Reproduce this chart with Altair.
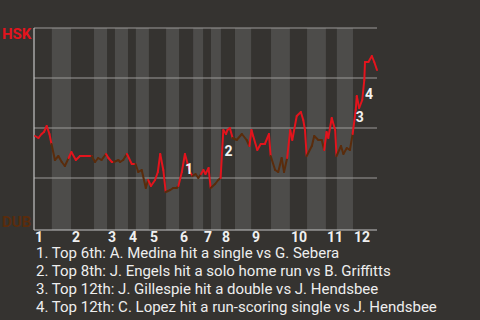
import altair as alt
import pandas as pd

# Game progress (% of plays) and HSK win probability after each play
progress = [0.3, 1.3, 2.2, 2.9, 3.7, 4.5, 5.1,
            6.1, 7.1, 8.1, 9.0, 10.1,
            10.9, 12.2, 13.4, 15.2, 16.8,
            17.8, 18.7, 19.7, 21.0,
            21.7, 22.7, 23.3,
            24.6, 25.1, 26.0, 27.1,
            28.5, 29.6,
            30.4, 31.4, 32.6, 33.3,
            34.1, 35.3, 36.1, 36.8, 37.7, 38.4,
            39.7, 40.6, 41.6, 42.1,
            43.1, 44.0, 44.8, 45.5, 46.2,
            47.1, 47.9, 48.7,
            49.4, 50.0, 50.9, 51.5,
            52.8, 53.7, 54.4,
            55.2, 56.0, 56.4, 57.1, 57.9,
            59.1, 60.6, 62.0, 62.8,
            63.4, 63.9, 65.1, 66.1, 67.3, 68.5, 69.0,
            70.3, 71.2, 72.2, 72.9, 73.8,
            74.7, 75.3, 76.6, 77.8, 78.5, 79.0, 79.5,
            81.0, 81.7, 82.9, 83.9, 84.6,
            85.3, 85.8, 86.8, 87.8, 88.2,
            89.5, 90.2, 91.2, 92.1, 92.9,
            93.8, 94.1, 94.8, 95.7, 96.3, 96.5, 97.5, 98.5, 99.2, 100.0]
hsk_wp = [0.46, 0.45, 0.47, 0.48, 0.51, 0.47, 0.42,
          0.34, 0.36, 0.33, 0.31, 0.35,
          0.38, 0.34, 0.36, 0.36, 0.36,
          0.33, 0.35, 0.34, 0.37,
          0.35, 0.33, 0.33,
          0.34, 0.33, 0.34, 0.37,
          0.32, 0.32,
          0.28, 0.29, 0.20, 0.24,
          0.21, 0.24, 0.28, 0.37, 0.29, 0.18,
          0.19, 0.20, 0.20, 0.21,
          0.28, 0.37, 0.32, 0.28, 0.26,
          0.27, 0.25, 0.27,
          0.29, 0.27, 0.30, 0.20,
          0.22, 0.24, 0.25,
          0.49, 0.47, 0.49, 0.50, 0.45,
          0.44, 0.47, 0.44, 0.41,
          0.49, 0.46, 0.39, 0.42, 0.42, 0.47, 0.36,
          0.29, 0.28, 0.35, 0.28, 0.35,
          0.49, 0.44, 0.56, 0.58, 0.54, 0.49, 0.36,
          0.41, 0.46, 0.44, 0.44, 0.39,
          0.48, 0.45, 0.55, 0.49, 0.36,
          0.41, 0.37, 0.40, 0.39, 0.47,
          0.59, 0.66, 0.60, 0.64, 0.74, 0.83, 0.83, 0.86, 0.83, 0.79]

# Where each inning starts and where its bottom half starts
innings = ["1", "2", "3", "4", "5", "6", "7", "8", "9", "10", "11", "12"]
inning_start = [0, 10.8, 21.3, 27.4, 33.5, 42.3, 49.3, 54.5, 63.3, 74.6, 85.1, 93.0]
bottom_start = [5.2, 17.5, 23.6, 29.7, 38.5, 46.4, 51.6, 58.6, 69.1, 79.6, 88.3]

# Key plays
event_num = ["1", "2", "3", "4"]
event_x = [45.2, 56.7, 95.0, 97.7]
event_y = [0.29, 0.38, 0.55, 0.665]
event_text = [
    "1. Top 6th: A. Medina hit a single vs G. Sebera",
    "2. Top 8th: J. Engels hit a solo home run vs B. Griffitts",
    "3. Top 12th: J. Gillespie hit a double vs J. Hendsbee",
    "4. Top 12th: C. Lopez hit a run-scoring single vs J. Hendsbee",
]

RED = "#e3141d"
BROWN = "#5a2c0c"
BG = "#353330"
STRIPE = "#4d4c4a"
FONT = "Roboto"

W, H = 343, 202
xs = alt.Scale(domain=[0, 100], nice=False, zero=False)
ys = alt.Scale(domain=[-0.01, 1], nice=False, zero=False)


def batting(p):
    for b, nxt in zip(bottom_start, inning_start[1:] + [1000]):
        if b <= p < nxt:
            return "DUB"
    return "HSK"


segs = pd.DataFrame({
    "x": progress[:-1], "y": hsk_wp[:-1],
    "x2": progress[1:], "y2": hsk_wp[1:],
    "team": [batting(p) for p in progress[1:]],
})

stripes = pd.DataFrame({
    "x": bottom_start,
    "x2": inning_start[1:],
    "y": [-0.01] * len(bottom_start),
    "y2": [1.0] * len(bottom_start),
})

stripe_layer = alt.Chart(stripes).mark_rect(color=STRIPE).encode(
    x=alt.X("x:Q", scale=xs, axis=None), x2="x2:Q",
    y=alt.Y("y:Q", scale=ys, axis=None), y2="y2:Q",
)

grid = alt.Chart(pd.DataFrame({"y": [0.25, 0.5, 0.75, 1.0], "x": 0, "x2": 100})).mark_rule(
    color="#9c9a98", strokeWidth=1
).encode(x=alt.X("x:Q", scale=xs, axis=None), x2="x2:Q", y=alt.Y("y:Q", scale=ys, axis=None))

axes = alt.Chart(pd.DataFrame({
    "x": [0, 0], "x2": [0, 100], "y": [-0.01, -0.01], "y2": [1.0, -0.01]
})).mark_rule(color="#c4c4c4", strokeWidth=1.2).encode(
    x=alt.X("x:Q", scale=xs, axis=None), x2="x2:Q",
    y=alt.Y("y:Q", scale=ys, axis=None), y2="y2:Q",
)

line = alt.Chart(segs).mark_rule(strokeWidth=2, strokeCap="round").encode(
    x=alt.X("x:Q", scale=xs, axis=None), x2="x2:Q",
    y=alt.Y("y:Q", scale=ys, axis=None), y2="y2:Q",
    color=alt.Color("team:N", scale=alt.Scale(domain=["HSK", "DUB"], range=[RED, BROWN]), legend=None),
)

marks = alt.Chart(pd.DataFrame({"n": event_num, "x": event_x, "y": event_y})).mark_text(
    font=FONT, fontSize=14, fontWeight="bold", color="#f2f2f2", align="center", baseline="middle"
).encode(x=alt.X("x:Q", scale=xs, axis=None), y=alt.Y("y:Q", scale=ys, axis=None), text="n:N")

inning_labels = alt.Chart(pd.DataFrame({"t": innings, "x": inning_start})).mark_text(
    font=FONT, fontSize=14, fontWeight="bold", color="#f0f0f0", align="left", baseline="middle", dx=1
).encode(x=alt.X("x:Q", scale=xs, axis=None), y=alt.value(H + 8), text="t:N")

team_labels = alt.layer(
    alt.Chart(pd.DataFrame({"t": ["HSK"]})).mark_text(
        font=FONT, fontSize=15, fontWeight="bold", align="left", baseline="middle", color=RED
    ).encode(x=alt.value(-32), y=alt.value(6), text="t:N"),
    alt.Chart(pd.DataFrame({"t": ["DUB"]})).mark_text(
        font=FONT, fontSize=15, fontWeight="bold", align="left", baseline="middle", color=BROWN
    ).encode(x=alt.value(-32), y=alt.value(H - 8), text="t:N"),
)

# Footnotes explaining the numbered plays, one line each
notes = alt.Chart(pd.DataFrame({"t": event_text, "i": list(range(len(event_text)))})).mark_text(
    font=FONT, fontSize=15, color="#eeeeee", align="left", baseline="middle"
).encode(
    x=alt.value(2),
    y=alt.Y("i:Q", scale=alt.Scale(domain=[0, 3], range=[H + 22.5, H + 77]), axis=None),
    text="t:N",
)

chart = alt.layer(stripe_layer, grid, axes, line, marks, inning_labels, team_labels, notes).properties(
    width=W, height=H, background=BG,
    padding={"left": 34, "top": 28, "right": 103, "bottom": 90},
    autosize=alt.AutoSizeParams(type="none"),
).resolve_scale(y="independent").configure_view(stroke=None)

chart.save("out.html", embed_options={"renderer": "svg", "actions": False})
